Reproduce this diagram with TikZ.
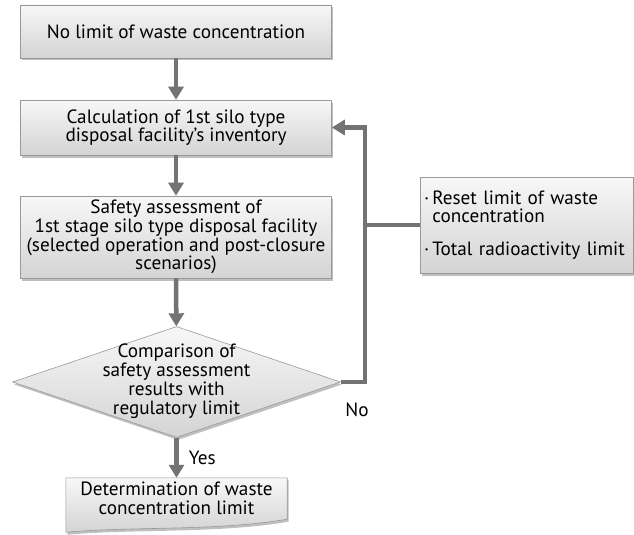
\documentclass[tikz,border=0pt]{standalone}
\usepackage{fontspec}
\setmainfont{PT Sans}
\usetikzlibrary{shapes.geometric,shadows,arrows.meta,backgrounds}
\newcommand{\linecolor}{black!55}
\newcommand{\shaftwidth}{4.5pt}

\tikzset{
  boxfill/.style={draw=black!40, line width=0.6pt, top color=black!3, bottom color=black!17,
    drop shadow={shadow xshift=1.5pt, shadow yshift=-2.5pt, opacity=0.5}},
  txt/.style={font=\fontsize{19.2}{18.6}\selectfont, align=center, inner sep=0pt},
  box/.style={rectangle, boxfill, txt},
  flow/.style={draw=\linecolor, line width=\shaftwidth, -{Triangle[width=15pt,length=13pt]}},
  link/.style={draw=\linecolor, line width=\shaftwidth},
}

\begin{document}
\begin{tikzpicture}[x=1pt,y=-1pt]
\useasboundingbox (0,0) rectangle (634,535);
% main column
\node[box, minimum width=311, minimum height=53] (nolimit) at (176,31.5) {No limit of waste concentration};
\node[box, minimum width=311, minimum height=55] (calc) at (176,127.5) {Calculation of 1st silo type\\disposal facility's inventory};
\node[box, minimum width=311, minimum height=82] (safety) at (176,237) {Safety assessment of\\1st stage silo type disposal facility\\(selected operation and post-closure\\scenarios)};
\node[diamond, boxfill, minimum width=328, minimum height=111, inner sep=0pt] (cmp) at (176.5,382) {};
\node[txt, font=\fontsize{19.2}{19}\selectfont] (cmptext) at (176.5,381) {Comparison of\\safety assessment\\results with\\regulatory limit};
\node[txt, minimum width=221, minimum height=41] (det) at (176.5,498.5) {Determination of waste\\concentration limit};
\coordinate (detcorner) at ([yshift=-13pt]det.south west);
\begin{scope}[on background layer]
\path[boxfill] (det.north west) -- (det.north east) -- (det.south east)
  .. controls +(-70,12) and +(70,-6) .. (detcorner) -- cycle;
\end{scope}
% side box
\node[box, align=left, minimum width=213, minimum height=96, text width=205] (reset) at (526.5,225)
  {·\,Reset limit of waste\\\phantom{·\,}concentration\\[14pt]·\,Total radioactivity limit};
% connectors
\draw[flow] (nolimit) -- (calc);
\draw[flow] (calc) -- (safety);
\draw[flow] (safety) -- (cmp);
\draw[flow] (cmp) -- node[right=10pt, txt] (yes) {Yes} (det);
\draw[flow] (cmp.east) -- ++(24,0) |- (calc.east);
\draw[link] (reset.west) -- ++(-56,0);
\node[txt] (no) at (357,410) {No};
\end{tikzpicture}
\end{document}
